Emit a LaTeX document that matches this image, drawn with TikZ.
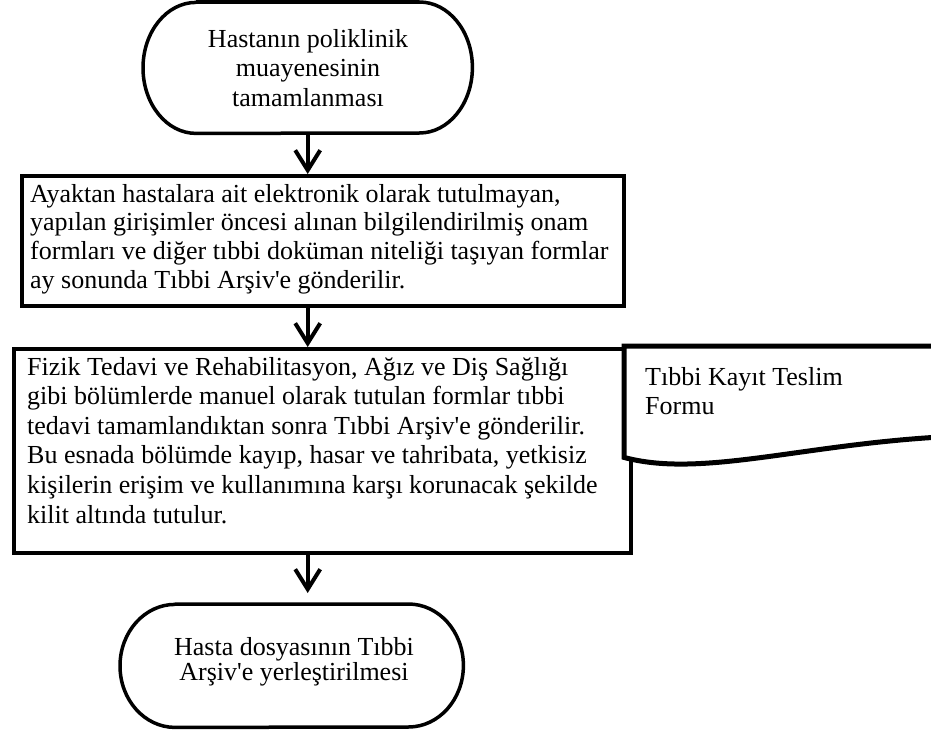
\documentclass[tikz,border=0pt]{standalone}
\usepackage{fontspec}
\newfontfamily\bodyfont{Liberation Serif}
\usetikzlibrary{arrows.meta,calc}

% top-aligned text block whose baseline is the first line's baseline
\newcommand{\flowtext}[3]{\begin{minipage}[t]{#1}\bodyfont\fontsize{26}{#2}\selectfont #3\end{minipage}}

\begin{document}
\begin{tikzpicture}[x=1pt,y=-1pt]
\tikzset{
  frame/.style={draw=black, line width=3.5pt, inner sep=0pt, anchor=north west},
  area/.style={inner sep=0pt, anchor=north west},
  outline/.style={draw=black, line width=3.5pt, line join=round},
  docline/.style={draw=black, line width=5pt, line join=miter},
  flowarrow/.style={draw=black, line width=4pt, -{Straight Barb[length=20pt,width=25pt]}},
  lefttext/.style={inner sep=0pt, anchor=base west},
  midtext/.style={inner sep=0pt, anchor=base},
}
\useasboundingbox (0,0) rectangle (931,736);
\fill[white] (0,0) rectangle (931,736);

% start terminator
\node[area, minimum width=329pt, minimum height=131pt] (t1) at (143,2) {};
\draw[outline] ([xshift=53pt]t1.north west) -- ([xshift=-53pt]t1.north east)
  arc[start angle=90, end angle=-90, x radius=53pt, y radius=65.5pt]
  -- ([xshift=53pt]t1.south west)
  arc[start angle=270, end angle=90, x radius=53pt, y radius=65.5pt] -- cycle;
\node[midtext] (t1txt) at (308,47) {\flowtext{320pt}{29.8}{\centering
  Hastanın poliklinik\\ muayenesinin\\ tamamlanması\par}};

% outpatient forms step
\node[frame, minimum width=602pt, minimum height=130pt] (b2) at (20,174) {};
\node[lefttext] (b2txt) at (30,202) {\flowtext{640pt}{28.8}{%
  Ayaktan hastalara ait elektronik olarak tutulmayan,\\
  yapılan girişimler öncesi alınan bilgilendirilmiş onam\\
  formları ve diğer tıbbi doküman niteliği taşıyan formlar\\
  ay sonunda Tıbbi Arşiv'e gönderilir.\par}};

% manual forms step
\node[frame, minimum width=617pt, minimum height=204pt] (b3) at (12,347) {};
\node[lefttext] (b3txt) at (27,375) {\flowtext{640pt}{29.6}{%
  Fizik Tedavi ve Rehabilitasyon, Ağız ve Diş Sağlığı\\
  gibi bölümlerde manuel olarak tutulan formlar tıbbi\\
  tedavi tamamlandıktan sonra Tıbbi Arşiv'e gönderilir.\\
  Bu esnada bölümde kayıp, hasar ve tahribata, yetkisiz\\
  kişilerin erişim ve kullanımına karşı korunacak şekilde\\
  kilit altında tutulur.\par}};

% document symbol, running past the right edge
\node[area, minimum width=316pt, minimum height=111pt] (doc) at (624,346) {};
\begin{scope}
  \clip (0,0) rectangle (931,736);
  \draw[docline, fill=white] (doc.south west) -- (doc.north west) -- (doc.north east)
    -- ($(doc.north east)+(0,91)$)
    .. controls (800,445) and (700,478) .. (doc.south west) -- cycle;
\end{scope}
\node[lefttext] (doctxt) at (645,385) {\flowtext{280pt}{29}{%
  Tıbbi Kayıt Teslim\\ Formu\par}};

% end terminator
\node[area, minimum width=343pt, minimum height=123pt] (t2) at (120,604) {};
\draw[outline] ([xshift=55pt]t2.north west) -- ([xshift=-55pt]t2.north east)
  arc[start angle=90, end angle=-90, x radius=55pt, y radius=61.5pt]
  -- ([xshift=55pt]t2.south west)
  arc[start angle=270, end angle=90, x radius=55pt, y radius=61.5pt] -- cycle;
\node[midtext] (t2txt) at (294,655) {\flowtext{320pt}{25.5}{\centering
  Hasta dosyasının Tıbbi\\ Arşiv'e yerleştirilmesi\par}};

% connectors
\draw[flowarrow] (t1.south) -- (t1.south |- b2.north);
\draw[flowarrow] (t1.south |- b2.south) -- (t1.south |- b3.north);
\draw[flowarrow] (t1.south |- b3.south) -- ([yshift=11pt]t2.north -| t1.south);
\end{tikzpicture}
\end{document}
